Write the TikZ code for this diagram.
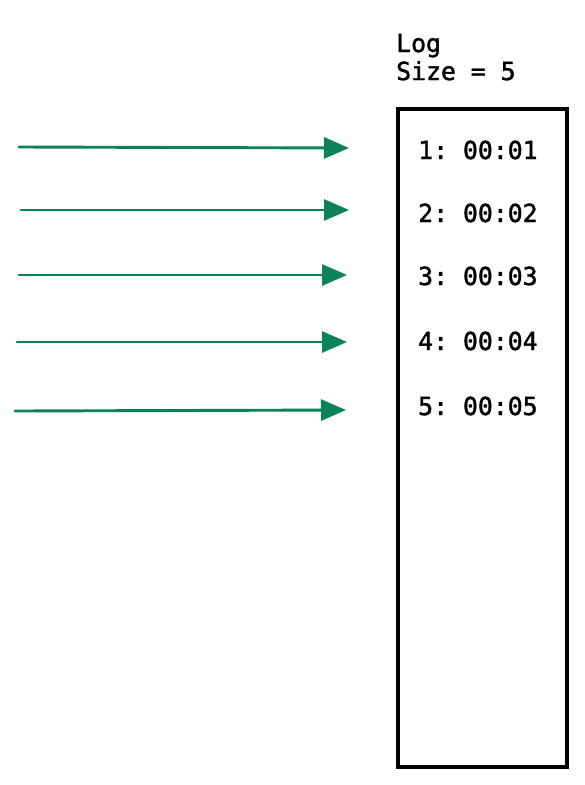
\documentclass[tikz,border=0pt]{standalone}
\usepackage{fontspec}
\setmonofont[FakeBold=1.6]{DejaVu Sans Mono}
\usetikzlibrary{arrows.meta}
\definecolor{arrgreen}{RGB}{12,130,88}
\tikzset{
  flow/.style={draw=arrgreen, line width=2.9pt, line cap=round, -{Triangle[length=25pt,width=21pt]}},
  logtxt/.style={anchor=base west, inner sep=0pt, font=\ttfamily\fontsize{24.8}{30}\selectfont},
  logbox/.style={draw=black, line width=3.1pt}
}
\begin{document}
\begin{tikzpicture}[x=1pt,y=-1pt]
\useasboundingbox (0,0) rectangle (585,785);
\fill[white] (0,0) rectangle (585,785);
\node[logtxt] (title) at (396,52) {Log};
\node[logtxt] (size) at (396,80) {Size = 5};
\draw[logbox] (398,109) rectangle (567,767);
\node[logtxt] (e1) at (418,159) {1: 00:01};
\node[logtxt] (e2) at (418,222) {2: 00:02};
\node[logtxt] (e3) at (418,285) {3: 00:03};
\node[logtxt] (e4) at (418,350) {4: 00:04};
\node[logtxt] (e5) at (418,415) {5: 00:05};
\coordinate (s1) at (19,147); \coordinate (t1) at (349,148);
\coordinate (s2) at (21,210); \coordinate (t2) at (349,210);
\coordinate (s3) at (19,275); \coordinate (t3) at (347,275);
\coordinate (s4) at (17,342); \coordinate (t4) at (347,342);
\coordinate (s5) at (15,411); \coordinate (t5) at (346,410);
\draw[flow] (s1) -- (t1);
\draw[flow] (s2) -- (t2);
\draw[flow] (s3) -- (t3);
\draw[flow] (s4) -- (t4);
\draw[flow] (s5) -- (t5);
\end{tikzpicture}
\end{document}
